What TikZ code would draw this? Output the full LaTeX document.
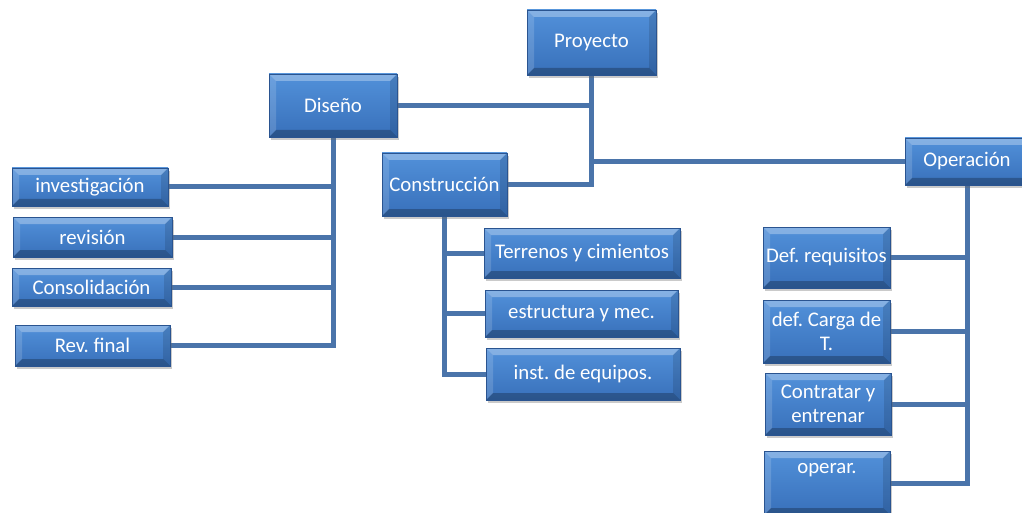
\documentclass[tikz,border=0pt]{standalone}
\usepackage{fontspec}
\setmainfont{Carlito}
\frenchspacing
\usetikzlibrary{shadows,backgrounds}
\definecolor{facetop}{HTML}{5291DA}
\definecolor{facebot}{HTML}{3870BA}
\definecolor{edgeblue}{HTML}{2A5490}
\definecolor{linkblue}{HTML}{4A74AA}
\tikzset{
  box/.style={rectangle, draw=edgeblue, line width=0.6pt,
    top color=facetop, bottom color=facebot, text=white,
    font=\fontsize{20.8}{23.5}\selectfont, align=center, inner sep=2pt,
    drop shadow={shadow xshift=1.5pt, shadow yshift=-3pt, opacity=0.35, fill=black!60},
    path picture={
      \fill[white,opacity=0.30] (path picture bounding box.north west) -- (path picture bounding box.north east)
        -- ([xshift=-7pt,yshift=-7pt]path picture bounding box.north east) -- ([xshift=7pt,yshift=-7pt]path picture bounding box.north west) -- cycle;
      \fill[white,opacity=0.15] (path picture bounding box.north west) -- ([xshift=7pt,yshift=-7pt]path picture bounding box.north west)
        -- ([xshift=7pt,yshift=7pt]path picture bounding box.south west) -- (path picture bounding box.south west) -- cycle;
      \fill[black,opacity=0.12] (path picture bounding box.north east) -- ([xshift=-7pt,yshift=-7pt]path picture bounding box.north east)
        -- ([xshift=-7pt,yshift=7pt]path picture bounding box.south east) -- (path picture bounding box.south east) -- cycle;
      \fill[black,opacity=0.25] (path picture bounding box.south west) -- ([xshift=7pt,yshift=7pt]path picture bounding box.south west)
        -- ([xshift=-7pt,yshift=7pt]path picture bounding box.south east) -- (path picture bounding box.south east) -- cycle;
    }},
  link/.style={draw=linkblue, line width=5pt}
}
\begin{document}
\begin{tikzpicture}[x=1pt,y=-1pt]
\useasboundingbox (0,0) rectangle (1022,513);
\clip (0,0) rectangle (1022,513);
% top level
\node[box, minimum width=129pt, minimum height=65pt] (P) at (591.5,42.5) {Proyecto};
\node[box, minimum width=128pt, minimum height=63pt] (D) at (333,105.5) {Diseño};
\node[box, minimum width=125pt, minimum height=63pt] (C) at (444.5,184.5) {Construcción};
\node[box, minimum width=124pt, minimum height=47pt] (O) at (967,161.5) {Operación};
% Diseño children
\node[box, minimum width=156pt, minimum height=38pt] (d1) at (90,187) {investigación};
\node[box, minimum width=159pt, minimum height=40pt] (d2) at (92.5,237) {revisión};
\node[box, minimum width=159pt, minimum height=38pt] (d3) at (91.5,287) {Consolidación};
\node[box, minimum width=155pt, minimum height=41pt] (d4) at (92.5,345.5) {Rev. final};
% Construcción children
\node[box, minimum width=196pt, minimum height=50pt] (c1) at (582,253) {Terrenos y cimientos};
\node[box, minimum width=193pt, minimum height=47pt] (c2) at (581.5,313.5) {estructura y mec.};
\node[box, minimum width=194pt, minimum height=52pt] (c3) at (583,374) {inst. de equipos.};
% Operación children
\node[box, minimum width=127pt, minimum height=61pt] (o1) at (826.5,257.5) {Def. requisitos};
\node[box, minimum width=127pt, minimum height=63pt] (o2) at (826.5,331.5) {def. Carga de\\T.};
\node[box, minimum width=126pt, minimum height=62pt] (o3) at (828,404) {Contratar y\\entrenar};
\node[box, minimum width=126pt, minimum height=64pt, text height=14pt, text depth=34pt] (o4) at (827,483) {operar.};
% connectors
\begin{pgfonlayer}{background}
\draw[link] (P.south) |- (C.east);
\draw[link] (D.east) -- (D.east -| P.south);
\draw[link] (P.south |- O.west) -- (O.west);
\draw[link] (D.south) |- (d4.east);
\draw[link] (d1.east) -- (d1.east -| D.south);
\draw[link] (d2.east) -- (d2.east -| D.south);
\draw[link] (d3.east) -- (d3.east -| D.south);
\draw[link] (C.south) |- (c3.west);
\draw[link] (c1.west) -- (c1.west -| C.south);
\draw[link] (c2.west) -- (c2.west -| C.south);
\draw[link] (O.south) |- (o4.east);
\draw[link] (o1.east) -- (o1.east -| O.south);
\draw[link] (o2.east) -- (o2.east -| O.south);
\draw[link] (o3.east) -- (o3.east -| O.south);
\end{pgfonlayer}
\end{tikzpicture}
\end{document}
